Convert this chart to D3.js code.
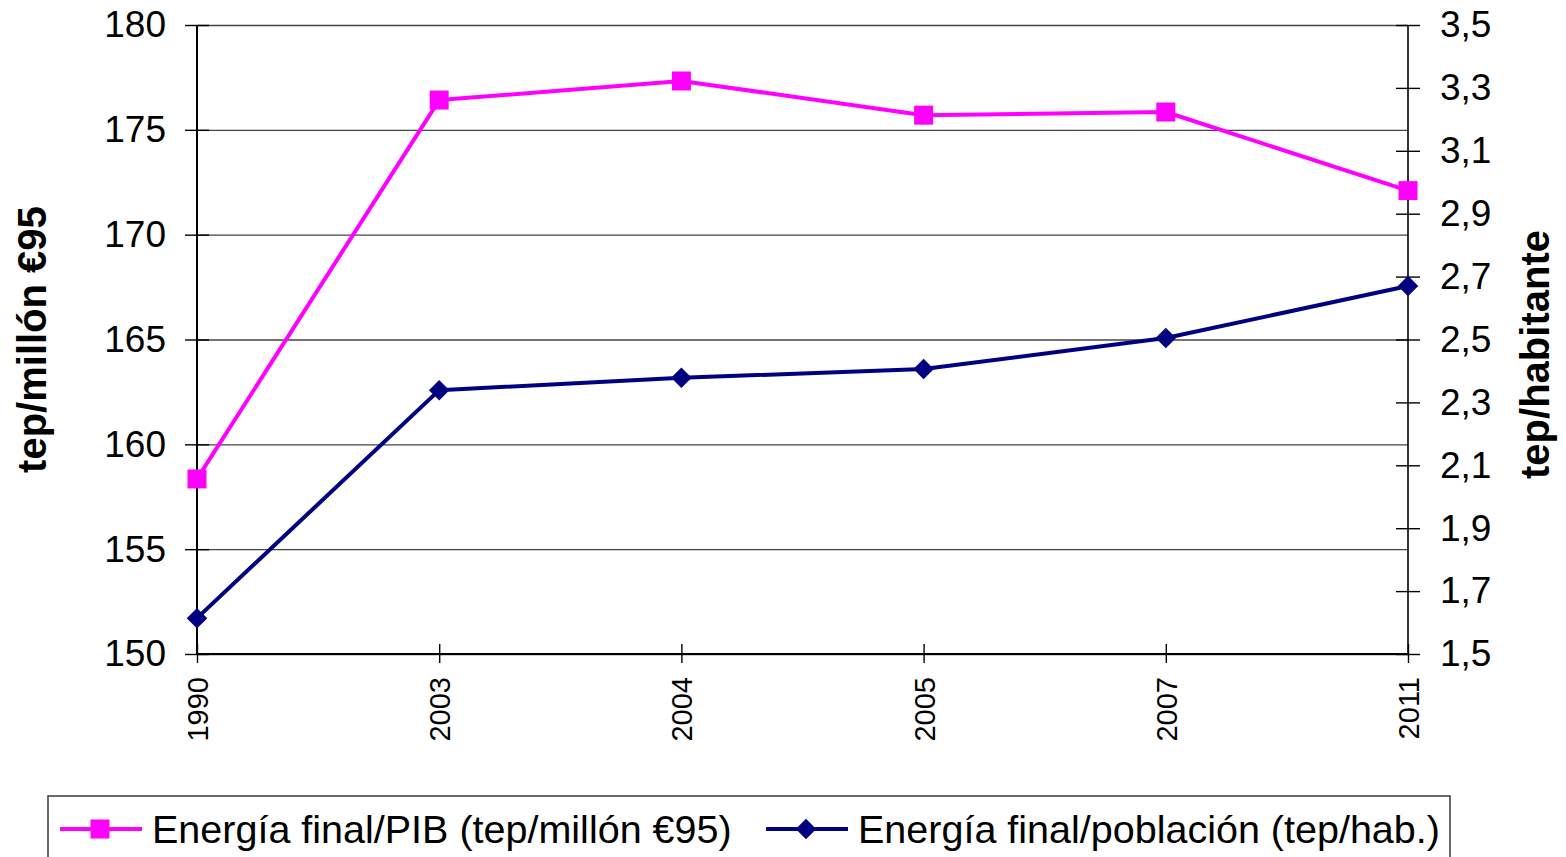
<!DOCTYPE html>
<html>
<head>
<meta charset="utf-8">
<script src="https://cdn.jsdelivr.net/npm/d3@7"></script>
<style>
	body { margin:0; background:#fff; }
	text { font-family: Arial, 'Liberation Sans', sans-serif; fill:#000; }
</style>
</head>
<body>
<div id="container"></div>
<script>
// Chart data
var years = ['1990', '2003', '2004', '2005', '2007', '2011']
var pibValues = [158.35, 176.42, 177.33, 175.7, 175.85, 172.1]
var pobValues = [1.614, 2.339, 2.378, 2.406, 2.505, 2.67]
var leftTicks = [150, 155, 160, 165, 170, 175, 180]
var rightTicks = [1.5, 1.7, 1.9, 2.1, 2.3, 2.5, 2.7, 2.9, 3.1, 3.3, 3.5]
var seriesNames = ['Energía final/PIB (tep/millón €95)', 'Energía final/población (tep/hab.)']
var axisTitles = ['tep/millón €95', 'tep/habitante']

var W = 1566, H = 857
// plot area edges (window.top is reserved, so no "top" here)
var plotLeft = 197, plotRight = 1408, plotTop = 25, plotBottom = 654
var pink = '#ff00ff', navy = '#000080'

var svg = d3.select('#container').append('svg').attr('width', W).attr('height', H)

var x = d3.scalePoint().domain(years).range([plotLeft, plotRight]).padding(0)
var yLeft = d3.scaleLinear().domain([150, 180]).range([plotBottom, plotTop])
var yRight = d3.scaleLinear().domain([1.5, 3.5]).range([plotBottom, plotTop])

// Gridlines
var grid = svg.append('g').attr('transform', 'translate(' + plotLeft + ',0)')
	.call(d3.axisLeft(yLeft).tickValues(leftTicks).tickSize(-(plotRight - plotLeft)).tickFormat(''))
grid.select('.domain').remove()
grid.selectAll('.tick line').attr('stroke', '#444').attr('stroke-width', 1.4)

// Left axis
var gLeft = svg.append('g').attr('transform', 'translate(' + plotLeft + ',0)')
	.call(d3.axisLeft(yLeft).tickValues(leftTicks).tickSize(12).tickPadding(19))
gLeft.select('.domain').attr('stroke', '#000').attr('stroke-width', 2).attr('d', 'M0,' + plotTop + 'V' + plotBottom)
gLeft.selectAll('.tick line').attr('x1', 12).attr('stroke', '#000').attr('stroke-width', 1.4)
gLeft.selectAll('.tick text').style('font-size', '37px')

// Right axis
var gRight = svg.append('g').attr('transform', 'translate(' + plotRight + ',0)')
	.call(d3.axisRight(yRight).tickValues(rightTicks).tickSize(12).tickPadding(20)
		.tickFormat(function(d) { return d3.format('.1f')(d).replace('.', ',') }))
gRight.select('.domain').attr('stroke', '#000').attr('stroke-width', 1.6).attr('d', 'M0,' + plotTop + 'V' + plotBottom)
gRight.selectAll('.tick line').attr('x1', -12).attr('stroke', '#000').attr('stroke-width', 1.4)
gRight.selectAll('.tick text').style('font-size', '37px')

// Bottom axis
var gBottom = svg.append('g').attr('transform', 'translate(0,' + plotBottom + ')')
	.call(d3.axisBottom(x).tickSize(9))
gBottom.select('.domain').attr('stroke', '#000').attr('stroke-width', 2.2).attr('d', 'M' + plotLeft + ',0H' + plotRight)
gBottom.selectAll('.tick line').attr('y1', -10).attr('stroke', '#000').attr('stroke-width', 1.4)
gBottom.selectAll('.tick text')
	.style('font-size', '29px')
	.attr('transform', 'rotate(-90)')
	.attr('text-anchor', 'end')
	.attr('x', -23).attr('y', 0).attr('dy', '0.36em')

// Axis titles
svg.append('text').text(axisTitles[0])
	.attr('transform', 'translate(46,' + ((plotTop + plotBottom) / 2) + ') rotate(-90)')
	.attr('text-anchor', 'middle').style('font-size', '40px').style('font-weight', 'bold')
svg.append('text').text(axisTitles[1])
	.attr('transform', 'translate(1549,' + ((plotTop + plotBottom) / 2 + 15) + ') rotate(-90)')
	.attr('text-anchor', 'middle').style('font-size', '40px').style('font-weight', 'bold')

// Series lines
var linePib = d3.line().x(function(d, i) { return x(years[i]) }).y(function(d) { return yLeft(d) })
var linePob = d3.line().x(function(d, i) { return x(years[i]) }).y(function(d) { return yRight(d) })

svg.append('path').datum(pibValues).attr('d', linePib)
	.attr('fill', 'none').attr('stroke', pink).attr('stroke-width', 4).attr('stroke-linejoin', 'round')
svg.append('path').datum(pobValues).attr('d', linePob)
	.attr('fill', 'none').attr('stroke', navy).attr('stroke-width', 4).attr('stroke-linejoin', 'round')

var square = d3.symbol().type(d3.symbolSquare).size(19 * 19)
var diamond = d3.symbol().type(d3.symbolSquare).size(210)

svg.selectAll('.pib-mark').data(pibValues).enter().append('path').attr('class', 'pib-mark')
	.attr('d', square).attr('fill', pink)
	.attr('transform', function(d, i) { return 'translate(' + x(years[i]) + ',' + yLeft(d) + ')' })
svg.selectAll('.pob-mark').data(pobValues).enter().append('path').attr('class', 'pob-mark')
	.attr('d', diamond).attr('fill', navy)
	.attr('transform', function(d, i) { return 'translate(' + x(years[i]) + ',' + yRight(d) + ') rotate(45)' })

// Legend
var legend = svg.append('g')
legend.append('rect').attr('x', 48).attr('y', 796).attr('width', 1402).attr('height', 90)
	.attr('fill', '#fff').attr('stroke', '#444').attr('stroke-width', 1.6)

var legendItems = [
	{name:seriesNames[0], color:pink, x:60, mark:square, rot:0},
	{name:seriesNames[1], color:navy, x:766, mark:diamond, rot:45}
]
legendItems.map(function(item) {
	legend.append('line').attr('x1', item.x).attr('x2', item.x + 82).attr('y1', 829).attr('y2', 829)
		.attr('stroke', item.color).attr('stroke-width', 4)
	legend.append('path').attr('d', item.mark).attr('fill', item.color)
		.attr('transform', 'translate(' + (item.x + 40) + ',829) rotate(' + item.rot + ')')
	legend.append('text').text(item.name).attr('x', item.x + 92).attr('y', 843)
		.style('font-size', '39.5px')
})
</script>
</body>
</html>
